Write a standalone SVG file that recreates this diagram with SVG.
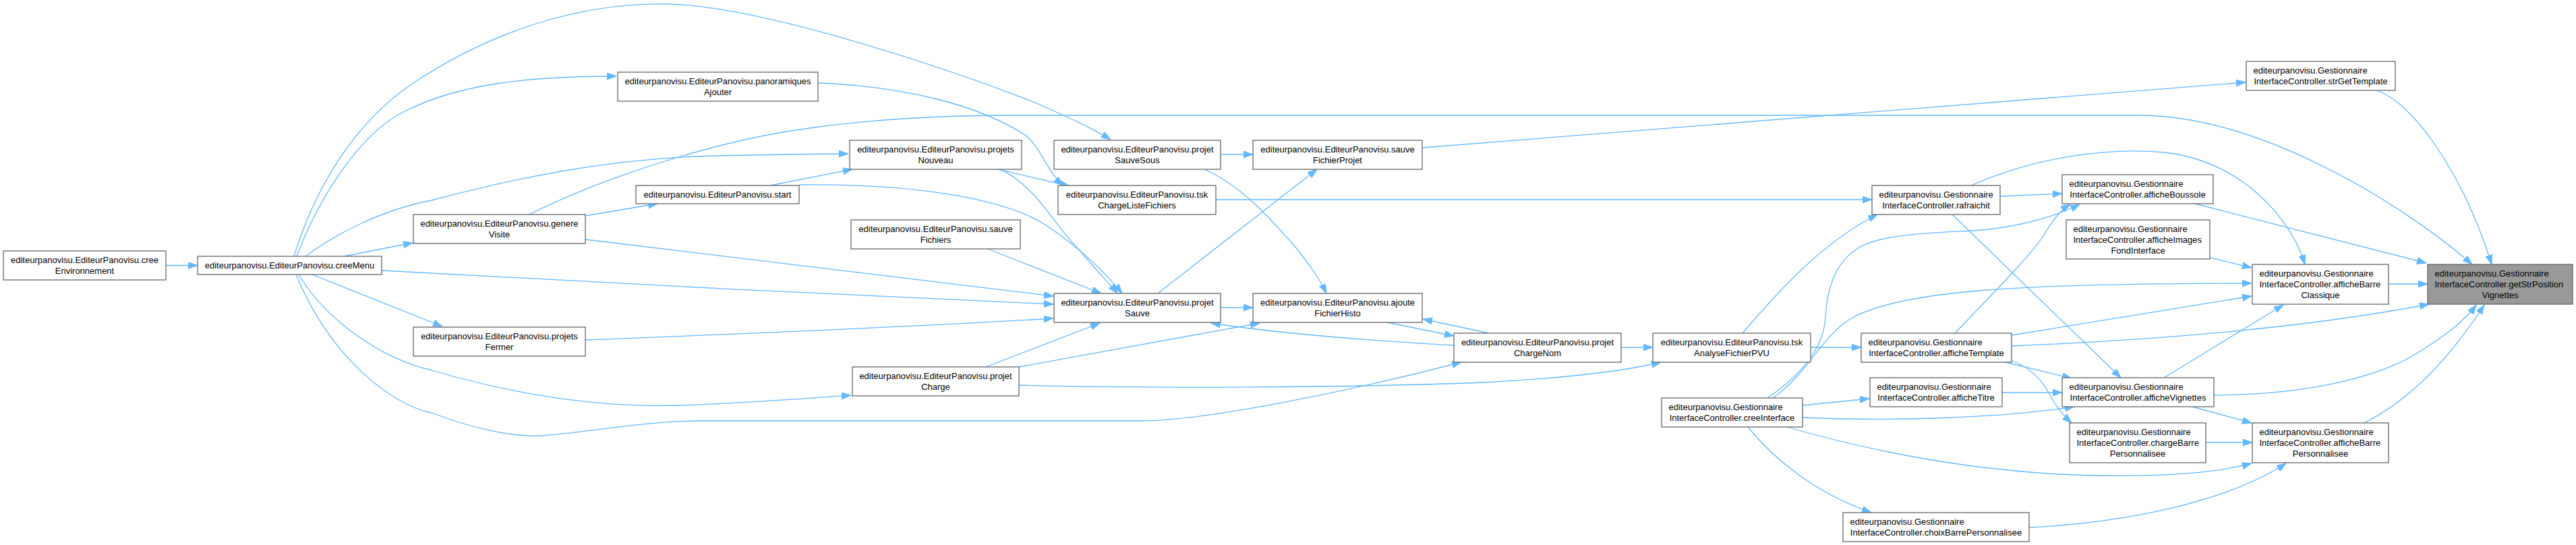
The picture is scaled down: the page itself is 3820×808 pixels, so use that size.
<svg xmlns="http://www.w3.org/2000/svg" width="3820" height="808" viewBox="0 0 3820 808">
<style>
.n rect{fill:#ffffff;stroke:#666666;stroke-width:1.3}
.t rect{fill:#999999;stroke:#666666;stroke-width:1.3}
text{font-family:"Liberation Sans",Arial,Helvetica,sans-serif;font-size:13px;fill:#000000}
.c{text-anchor:middle}
.l{text-anchor:start}
#edges path{fill:none;stroke:#63b8ff;stroke-width:1.3;marker-end:url(#ah)}
</style>
<defs>
<marker id="ah" markerUnits="userSpaceOnUse" markerWidth="15" markerHeight="11" refX="14" refY="5" orient="auto">
<path d="M0,0 L14,5 L0,10 z" fill="#63b8ff" stroke="#63b8ff" stroke-width="1"/>
</marker>
</defs>
<rect x="0" y="0" width="3820" height="808" fill="#ffffff"/>
<g id="edges">
<path d="M246,393.5 L293,393.5"/>
<path d="M436,380 C470,270 530,180 610,125 C730,45 860,4 990,6 C1130,9 1400,100 1530,150 C1580,172 1620,190 1647,207"/>
<path d="M440,380 C470,300 530,200 600,165 C680,125 780,113 914,113"/>
<path d="M453,380 C500,345 570,310 640,297 C760,265 900,235 1060,231 C1150,229 1210,228 1258,228"/>
<path d="M510,380 L612,360"/>
<path d="M566,401 C800,415 1300,440 1562,451"/>
<path d="M463,407 L656,484"/>
<path d="M443,407 C480,470 560,530 640,549 C780,590 900,604 1007,601 C1100,598 1180,592 1262,586"/>
<path d="M439,407 C490,530 580,600 640,612 C700,635 760,648 800,646 C870,642 950,624 1040,624 L1690,624 C1790,624 2010,578 2167,537"/>
<path d="M868,320 L975,302"/>
<path d="M868,355 L1562,439"/>
<path d="M785,318 C880,270 1050,210 1200,190 C1300,176 1400,171 1500,171 L3172,171 C3350,171 3560,300 3666,392"/>
<path d="M1213,123 C1340,128 1450,155 1520,200 C1545,220 1550,250 1576,275"/>
<path d="M1480,251 L1586,276"/>
<path d="M1484,251 C1540,280 1560,330 1600,370 C1625,400 1645,420 1657,435"/>
<path d="M1142,275 L1264,251"/>
<path d="M1185,274 C1360,272 1500,295 1560,340 C1610,375 1640,405 1664,435"/>
<path d="M1462,368 L1633,435"/>
<path d="M868,504 C1100,495 1400,482 1562,472"/>
<path d="M1462,544 L1631,479"/>
<path d="M1511,544 L1868,479"/>
<path d="M1511,571 C1700,576 2000,575 2200,567 C2330,560 2410,550 2463,537"/>
<path d="M1810,229 L1858,229"/>
<path d="M1788,252 C1840,275 1880,320 1920,365 C1940,390 1955,410 1967,435"/>
<path d="M1717,435 L1953,251"/>
<path d="M1810,456 L1858,456"/>
<path d="M2156,512 C2050,506 1900,495 1796,479"/>
<path d="M2057,478 L2156,498"/>
<path d="M2208,494 L2110,473"/>
<path d="M2404,515 L2451,515"/>
<path d="M2109,219 L3330,122"/>
<path d="M1803,296 L2776,296"/>
<path d="M2584,494 C2630,440 2700,360 2784,318"/>
<path d="M2685,515 L2760,515"/>
<path d="M2966,291 L3058,287"/>
<path d="M2923,275 C3020,232 3130,218 3210,226 C3330,240 3400,330 3418,392"/>
<path d="M2895,318 L3145,560"/>
<path d="M2899,494 C2960,430 3010,380 3030,350 C3045,325 3055,312 3070,303"/>
<path d="M2621,590 C2680,550 2705,510 2707,470 C2710,420 2725,385 2760,365 C2800,345 2880,345 2940,341 C3000,335 3050,320 3084,303"/>
<path d="M2629,590 C2680,555 2700,500 2745,472 C2820,430 3000,420 3339,420"/>
<path d="M2673,601 L2772,591"/>
<path d="M2673,619 C2780,624 2950,622 3076,603"/>
<path d="M2591,632 C2630,680 2690,730 2775,760"/>
<path d="M2646,632 C2760,665 2920,700 3100,705 C3220,707 3290,700 3339,687"/>
<path d="M3009,782 C3150,775 3300,745 3390,687"/>
<path d="M2983,497 L3339,439"/>
<path d="M2983,513 C3150,506 3400,490 3602,451"/>
<path d="M2970,536 L3072,561"/>
<path d="M2984,535 C3020,548 3035,575 3045,595 C3055,610 3062,618 3072,627"/>
<path d="M2969,582 L3058,582"/>
<path d="M3209,560 L3386,452"/>
<path d="M3283,586 C3420,585 3530,560 3590,520 C3630,495 3655,475 3672,452"/>
<path d="M3251,603 L3339,627"/>
<path d="M3271,656 L3340,656"/>
<path d="M3506,627 C3580,590 3640,520 3684,452"/>
<path d="M3542,421 L3600,421"/>
<path d="M3255,302 L3598,390"/>
<path d="M3278,382 L3339,397"/>
<path d="M3524,134 C3575,150 3650,250 3695,392"/>
</g>
<g id="creeEnvironnement" class="n"><rect x="5" y="372" width="241" height="43"/><text class="c" x="125.5" y="390">editeurpanovisu.EditeurPanovisu.cree</text><text class="c" x="125.5" y="406">Environnement</text></g>
<g id="creeMenu" class="n"><rect x="293" y="380" width="273" height="27"/><text class="c" x="429.5" y="398">editeurpanovisu.EditeurPanovisu.creeMenu</text></g>
<g id="panoramiquesAjouter" class="n"><rect x="916" y="107" width="297" height="43"/><text class="c" x="1064.5" y="125">editeurpanovisu.EditeurPanovisu.panoramiques</text><text class="c" x="1064.5" y="141">Ajouter</text></g>
<g id="start" class="n"><rect x="943" y="275" width="242" height="27"/><text class="c" x="1064" y="293">editeurpanovisu.EditeurPanovisu.start</text></g>
<g id="genereVisite" class="n"><rect x="613" y="318" width="255" height="43"/><text class="c" x="740.5" y="336">editeurpanovisu.EditeurPanovisu.genere</text><text class="c" x="740.5" y="352">Visite</text></g>
<g id="projetsFermer" class="n"><rect x="613" y="485" width="255" height="43"/><text class="c" x="740.5" y="503">editeurpanovisu.EditeurPanovisu.projets</text><text class="c" x="740.5" y="519">Fermer</text></g>
<g id="projetsNouveau" class="n"><rect x="1260" y="208" width="255" height="43"/><text class="c" x="1387.5" y="226">editeurpanovisu.EditeurPanovisu.projets</text><text class="c" x="1387.5" y="242">Nouveau</text></g>
<g id="sauveFichiers" class="n"><rect x="1262" y="326" width="251" height="43"/><text class="c" x="1387.5" y="344">editeurpanovisu.EditeurPanovisu.sauve</text><text class="c" x="1387.5" y="360">Fichiers</text></g>
<g id="projetCharge" class="n"><rect x="1264" y="544" width="247" height="43"/><text class="c" x="1387.5" y="562">editeurpanovisu.EditeurPanovisu.projet</text><text class="c" x="1387.5" y="578">Charge</text></g>
<g id="projetSauveSous" class="n"><rect x="1563" y="208" width="247" height="43"/><text class="c" x="1686.5" y="226">editeurpanovisu.EditeurPanovisu.projet</text><text class="c" x="1686.5" y="242">SauveSous</text></g>
<g id="tskChargeListeFichiers" class="n"><rect x="1569" y="275" width="234" height="43"/><text class="c" x="1686" y="293">editeurpanovisu.EditeurPanovisu.tsk</text><text class="c" x="1686" y="309">ChargeListeFichiers</text></g>
<g id="projetSauve" class="n"><rect x="1563" y="435" width="247" height="43"/><text class="c" x="1686.5" y="453">editeurpanovisu.EditeurPanovisu.projet</text><text class="c" x="1686.5" y="469">Sauve</text></g>
<g id="sauveFichierProjet" class="n"><rect x="1858" y="208" width="251" height="43"/><text class="c" x="1983.5" y="226">editeurpanovisu.EditeurPanovisu.sauve</text><text class="c" x="1983.5" y="242">FichierProjet</text></g>
<g id="ajouteFichierHisto" class="n"><rect x="1858" y="435" width="251" height="43"/><text class="c" x="1983.5" y="453">editeurpanovisu.EditeurPanovisu.ajoute</text><text class="c" x="1983.5" y="469">FichierHisto</text></g>
<g id="projetChargeNom" class="n"><rect x="2156" y="494" width="248" height="43"/><text class="c" x="2280" y="512">editeurpanovisu.EditeurPanovisu.projet</text><text class="c" x="2280" y="528">ChargeNom</text></g>
<g id="tskAnalyseFichierPVU" class="n"><rect x="2451" y="494" width="234" height="43"/><text class="c" x="2568" y="512">editeurpanovisu.EditeurPanovisu.tsk</text><text class="c" x="2568" y="528">AnalyseFichierPVU</text></g>
<g id="creeInterface" class="n"><rect x="2464" y="590" width="209" height="43"/><text class="l" x="2474.5" y="608">editeurpanovisu.Gestionnaire</text><text class="c" x="2568.5" y="624">InterfaceController.creeInterface</text></g>
<g id="rafraichit" class="n"><rect x="2776" y="275" width="190" height="43"/><text class="l" x="2786.5" y="293">editeurpanovisu.Gestionnaire</text><text class="c" x="2871" y="309">InterfaceController.rafraichit</text></g>
<g id="afficheTemplate" class="n"><rect x="2760" y="494" width="223" height="43"/><text class="l" x="2770.5" y="512">editeurpanovisu.Gestionnaire</text><text class="c" x="2871.5" y="528">InterfaceController.afficheTemplate</text></g>
<g id="afficheTitre" class="n"><rect x="2773" y="560" width="196" height="43"/><text class="l" x="2783.5" y="578">editeurpanovisu.Gestionnaire</text><text class="c" x="2871" y="594">InterfaceController.afficheTitre</text></g>
<g id="choixBarrePersonnalisee" class="n"><rect x="2733" y="760" width="276" height="43"/><text class="l" x="2743.5" y="778">editeurpanovisu.Gestionnaire</text><text class="c" x="2871" y="794">InterfaceController.choixBarrePersonnalisee</text></g>
<g id="afficheBoussole" class="n"><rect x="3058" y="259" width="224" height="43"/><text class="l" x="3068.5" y="277">editeurpanovisu.Gestionnaire</text><text class="c" x="3170" y="293">InterfaceController.afficheBoussole</text></g>
<g id="afficheImagesFondInterface" class="n"><rect x="3064" y="326" width="213" height="58"/><text class="l" x="3074.5" y="344">editeurpanovisu.Gestionnaire</text><text class="l" x="3074.5" y="360">InterfaceController.afficheImages</text><text class="c" x="3170.5" y="376">FondInterface</text></g>
<g id="afficheVignettes" class="n"><rect x="3058" y="560" width="225" height="43"/><text class="l" x="3068.5" y="578">editeurpanovisu.Gestionnaire</text><text class="c" x="3170.5" y="594">InterfaceController.afficheVignettes</text></g>
<g id="chargeBarrePersonnalisee" class="n"><rect x="3069" y="627" width="202" height="59"/><text class="l" x="3079.5" y="645">editeurpanovisu.Gestionnaire</text><text class="l" x="3079.5" y="661">InterfaceController.chargeBarre</text><text class="c" x="3170" y="677">Personnalisee</text></g>
<g id="strGetTemplate" class="n"><rect x="3331" y="91" width="221" height="43"/><text class="l" x="3341.5" y="109">editeurpanovisu.Gestionnaire</text><text class="c" x="3441.5" y="125">InterfaceController.strGetTemplate</text></g>
<g id="afficheBarreClassique" class="n"><rect x="3340" y="392" width="202" height="59"/><text class="l" x="3350.5" y="410">editeurpanovisu.Gestionnaire</text><text class="l" x="3350.5" y="426">InterfaceController.afficheBarre</text><text class="c" x="3441" y="442">Classique</text></g>
<g id="afficheBarrePersonnalisee" class="n"><rect x="3340" y="627" width="202" height="59"/><text class="l" x="3350.5" y="645">editeurpanovisu.Gestionnaire</text><text class="l" x="3350.5" y="661">InterfaceController.afficheBarre</text><text class="c" x="3441" y="677">Personnalisee</text></g>
<g id="getStrPositionVignettes" class="t"><rect x="3600" y="392" width="215" height="59"/><text class="l" x="3610.5" y="410">editeurpanovisu.Gestionnaire</text><text class="l" x="3610.5" y="426">InterfaceController.getStrPosition</text><text class="c" x="3707.5" y="442">Vignettes</text></g>
</svg>
